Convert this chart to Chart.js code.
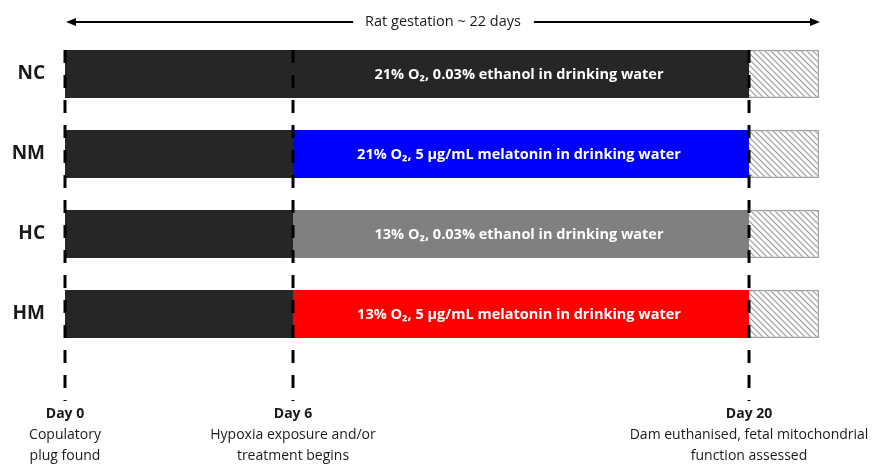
<!DOCTYPE html>
<html><head><meta charset="utf-8">
<script src="https://cdn.jsdelivr.net/npm/chart.js@4"></script>
<style>html,body{margin:0;padding:0;background:#fff}#wrap{width:877px;height:464px;position:relative}</style>
</head><body><div id="wrap"><canvas id="c"></canvas></div>
<script>
// ---- data ----
const groups = ['NC', 'NM', 'HC', 'HM'];
const preDays = [[0, 6], [0, 6], [0, 6], [0, 6]];
const treatDays = [[6, 20], [6, 20], [6, 20], [6, 20]];
const postDays = [[20, 22], [20, 22], [20, 22], [20, 22]];
const treatColors = ['#262626', '#0000FF', '#808080', '#FF0000'];
const treatLabels = [
  '21% O₂, 0.03% ethanol in drinking water',
  '21% O₂, 5 µg/mL melatonin in drinking water',
  '13% O₂, 0.03% ethanol in drinking water',
  '13% O₂, 5 µg/mL melatonin in drinking water'
];
const milestoneDays = [0, 6, 20];
const milestoneTitles = ['Day 0', 'Day 6', 'Day 20'];
const milestoneNotes = [
  ['Copulatory', 'plug found'],
  ['Hypoxia exposure and/or', 'treatment begins'],
  ['Dam euthanised, fetal mitochondrial', 'function assessed']
];
const gestationStart = 0;
const gestationEnd = 22;
const gestationLabel = 'Rat gestation ~ 22 days';

// ---- piecewise (non-uniform) time axis, as drawn in the figure ----
const axisStopDays = [0, 6, 20, 22];
const axisStopFracs = [0, 0.3024, 0.9072, 1];

class PiecewiseScale extends Chart.LinearScale {
  static id = 'piecewise';
  static defaults = {};
  _frac(v) {
    const d = axisStopDays, f = axisStopFracs;
    for (let i = 1; i < d.length; i++) {
      if (v <= d[i] || i === d.length - 1) {
        return f[i - 1] + (v - d[i - 1]) / (d[i] - d[i - 1]) * (f[i] - f[i - 1]);
      }
    }
  }
  getPixelForValue(v) {
    return (v === null || v === undefined) ? NaN : this.getPixelForDecimal(this._frac(v));
  }
}
Chart.register(PiecewiseScale);

// hatch pattern
function makeHatch() {
  const s = 6;
  const pc = document.createElement('canvas');
  pc.width = s; pc.height = s;
  const g = pc.getContext('2d');
  g.fillStyle = '#ffffff'; g.fillRect(0, 0, s, s);
  g.strokeStyle = '#999999'; g.lineWidth = 1.2;
  g.beginPath();
  g.moveTo(-1, -1); g.lineTo(s + 1, s + 1);
  g.moveTo(-1, s - 1); g.lineTo(1, s + 1);
  g.moveTo(s - 1, -1); g.lineTo(s + 1, 1);
  g.stroke();
  return g.createPattern(pc, 'repeat');
}
const hatch = makeHatch();

const FONT = '"Open Sans", "Liberation Sans", sans-serif';
const INK = '#1a1a1a';

const overlay = {
  id: 'overlay',
  afterDatasetsDraw(chart) {
    const ctx = chart.ctx;
    const xs = chart.scales.x;
    const area = chart.chartArea;
    const treatMeta = chart.getDatasetMeta(1);
    ctx.save();

    // labels inside treatment bars
    ctx.fillStyle = '#ffffff';
    ctx.font = 'bold 14.5px ' + FONT;
    ctx.textAlign = 'center';
    ctx.textBaseline = 'middle';
    treatMeta.data.forEach((bar, i) => {
      const cx = (bar.x + bar.base) / 2 - 2;
      ctx.fillText(treatLabels[i], cx, bar.y + 1);
    });

    // dashed milestone lines
    const firstBar = chart.getDatasetMeta(0).data[0];
    const yTop = firstBar.y - firstBar.height / 2;
    const yBot = area.bottom + 47;
    ctx.strokeStyle = '#000000';
    ctx.lineWidth = 3;
    ctx.setLineDash([13, 12]);
    milestoneDays.forEach(d => {
      const x = xs.getPixelForValue(d);
      ctx.beginPath();
      ctx.moveTo(x, yTop);
      ctx.lineTo(x, yBot);
      ctx.stroke();
    });
    ctx.setLineDash([]);

    // milestone texts
    ctx.fillStyle = INK;
    milestoneDays.forEach((d, i) => {
      const x = xs.getPixelForValue(d);
      ctx.font = 'bold 14px ' + FONT;
      ctx.fillText(milestoneTitles[i], x, yBot + 13);
      ctx.font = '14px ' + FONT;
      milestoneNotes[i].forEach((t, j) => ctx.fillText(t, x, yBot + 34 + j * 21));
    });

    // gestation arrow
    const ay = 22;
    const x0 = xs.getPixelForValue(gestationStart) + 1;
    const x1 = xs.getPixelForValue(gestationEnd) + 1;
    const mid = (x0 + x1) / 2;
    ctx.font = '14.5px ' + FONT;
    const tw = ctx.measureText(gestationLabel).width;
    ctx.fillText(gestationLabel, mid, ay);
    ctx.strokeStyle = '#000000';
    ctx.lineWidth = 2;
    ctx.beginPath();
    ctx.moveTo(x0 + 8, ay); ctx.lineTo(mid - tw / 2 - 12, ay);
    ctx.moveTo(mid + tw / 2 + 13, ay); ctx.lineTo(x1 - 8, ay);
    ctx.stroke();
    ctx.fillStyle = '#000000';
    ctx.beginPath();
    ctx.moveTo(x0, ay); ctx.lineTo(x0 + 10, ay - 4); ctx.lineTo(x0 + 10, ay + 4); ctx.closePath();
    ctx.moveTo(x1, ay); ctx.lineTo(x1 - 10, ay - 4); ctx.lineTo(x1 - 10, ay + 4); ctx.closePath();
    ctx.fill();

    ctx.restore();
  }
};

new Chart(document.getElementById('c'), {
  type: 'bar',
  data: {
    labels: groups,
    datasets: [
      { label: 'Pre-treatment', data: preDays, backgroundColor: '#262626', borderWidth: 0 },
      { label: 'Treatment', data: treatDays, backgroundColor: treatColors, borderWidth: 0 },
      { label: 'Post', data: postDays, backgroundColor: hatch, borderColor: '#a0a0a0', borderWidth: 1.5 }
    ]
  },
  options: {
    indexAxis: 'y',
    responsive: true,
    maintainAspectRatio: false,
    animation: false,
    events: [],
    layout: { padding: { top: 34, bottom: 110, right: 58, left: 0 } },
    datasets: { bar: { grouped: false, categoryPercentage: 1, barPercentage: 0.6 } },
    plugins: { legend: { display: false }, tooltip: { enabled: false } },
    scales: {
      x: { type: 'piecewise', min: 0, max: 22, display: false },
      y: {
        grid: { display: false, drawTicks: false },
        border: { display: false },
        ticks: { color: INK, font: { family: FONT, size: 19, weight: 'bold' }, padding: 20 },
        afterFit(scale) { scale.width = 65; }
      }
    }
  },
  plugins: [overlay]
});
</script>
</body></html>
